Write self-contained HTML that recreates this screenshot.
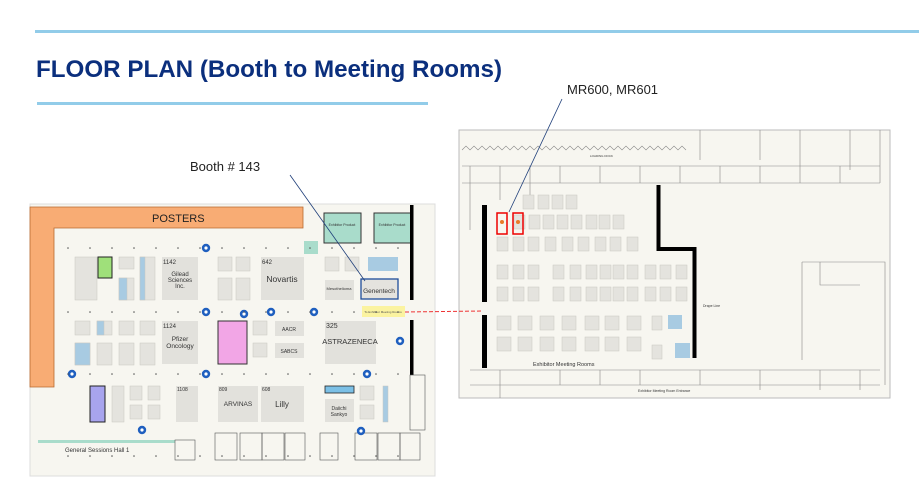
<!DOCTYPE html>
<html><head><meta charset="utf-8"><style>
html,body{margin:0;padding:0;background:#fff;width:919px;height:485px;overflow:hidden}
svg{display:block}
text{font-family:"Liberation Sans",sans-serif}
</style></head><body>
<svg id="s" width="919" height="485" viewBox="0 0 919 485" xmlns="http://www.w3.org/2000/svg">
<rect x="35" y="30" width="884" height="3" fill="#92cce9"/>
<text x="36" y="77" font-size="24" font-weight="bold" fill="#0b2f7d" textLength="466" lengthAdjust="spacingAndGlyphs">FLOOR PLAN (Booth to Meeting Rooms)</text>
<rect x="37" y="102" width="391" height="3" fill="#92cce9"/>

<!-- left plan -->
<rect x="30" y="204" width="405" height="272" fill="#f7f6f0" stroke="#ddd"/>
<path d="M30 207 H303 V228 H54 V387 H30 Z" fill="#f8ac74" stroke="#b86a30" stroke-width="0.8"/>
<text x="152" y="222" font-size="11" fill="#222">POSTERS</text>
<g id="lb" fill="#e4e3de" stroke="#c8c7c0" stroke-width="0.5"></g>
<rect x="98" y="257" width="14" height="21" fill="#9fe07a" stroke="#222" stroke-width="1"/>
<rect x="162" y="257" width="36" height="43" fill="#e2e1dc"/>
<text x="163" y="264" font-size="6" fill="#333">1142</text>
<text x="180" y="276" font-size="6" fill="#333" text-anchor="middle">Gilead</text>
<text x="180" y="282" font-size="6" fill="#333" text-anchor="middle">Sciences</text>
<text x="180" y="288" font-size="6" fill="#333" text-anchor="middle">Inc.</text>
<rect x="261" y="257" width="43" height="43" fill="#e2e1dc"/>
<text x="262" y="264" font-size="6" fill="#333">642</text>
<text x="282" y="282" font-size="8.5" fill="#333" text-anchor="middle">Novartis</text>
<rect x="162" y="321" width="36" height="43" fill="#e2e1dc"/>
<text x="163" y="328" font-size="6" fill="#333">1124</text>
<text x="180" y="341" font-size="6.5" fill="#333" text-anchor="middle">Pfizer</text>
<text x="180" y="348" font-size="6.5" fill="#333" text-anchor="middle">Oncology</text>
<rect x="218" y="321" width="29" height="43" fill="#f2a6e6" stroke="#333" stroke-width="1"/>
<rect x="275" y="321" width="29" height="15" fill="#e2e1dc"/><text x="289" y="331" font-size="5" fill="#333" text-anchor="middle">AACR</text>
<rect x="275" y="343" width="29" height="15" fill="#e2e1dc"/><text x="289" y="353" font-size="5" fill="#333" text-anchor="middle">SABCS</text>
<rect x="325" y="321" width="51" height="43" fill="#e2e1dc"/>
<text x="326" y="328" font-size="7" fill="#333">325</text>
<text x="350" y="344" font-size="7.5" fill="#333" text-anchor="middle">ASTRAZENECA</text>
<rect x="325" y="280" width="29" height="20" fill="#e2e1dc"/>
<text x="339" y="290" font-size="4" fill="#333" text-anchor="middle">Mesothelioma</text>
<rect x="361" y="279" width="37" height="20" fill="#e4e3de" stroke="#1f4e9a" stroke-width="1.3"/>
<text x="379" y="293" font-size="6.5" fill="#333" text-anchor="middle">Genentech</text>
<rect x="324" y="213" width="37" height="30" fill="#a9dccb" stroke="#333" stroke-width="1"/>
<text x="342" y="226" font-size="3.5" fill="#333" text-anchor="middle">Exhibitor Product</text>
<rect x="374" y="213" width="37" height="30" fill="#a9dccb" stroke="#333" stroke-width="1"/>
<text x="392" y="226" font-size="3.5" fill="#333" text-anchor="middle">Exhibitor Product</text>
<rect x="304" y="241" width="14" height="13" fill="#a9dccb"/>
<rect x="368" y="257" width="30" height="14" fill="#a8cbe2"/>
<rect x="410" y="205" width="3.5" height="95" fill="#000"/>
<rect x="410" y="320" width="3.5" height="55" fill="#000"/>
<rect x="362" y="306" width="43" height="11" fill="#fbf3a0"/>
<text x="383" y="313" font-size="3" fill="#555" text-anchor="middle">To Exhibitor Meeting Rooms</text>
<rect x="90" y="386" width="15" height="36" fill="#a8a4ee" stroke="#222" stroke-width="1"/>
<rect x="176" y="386" width="22" height="36" fill="#e2e1dc"/><text x="177" y="391" font-size="5" fill="#333">1108</text>
<rect x="218" y="386" width="40" height="36" fill="#e2e1dc"/><text x="219" y="391" font-size="5" fill="#333">809</text>
<text x="238" y="406" font-size="6.5" fill="#333" text-anchor="middle">ARVINAS</text>
<rect x="261" y="386" width="43" height="36" fill="#e2e1dc"/><text x="262" y="391" font-size="5" fill="#333">608</text>
<text x="282" y="407" font-size="8" fill="#333" text-anchor="middle">Lilly</text>
<rect x="325" y="386" width="29" height="7" fill="#7cc0e6" stroke="#222" stroke-width="0.8"/>
<rect x="325" y="399" width="29" height="23" fill="#e2e1dc"/>
<text x="339" y="410" font-size="5" fill="#333" text-anchor="middle">Daiichi</text>
<text x="339" y="416" font-size="5" fill="#333" text-anchor="middle">Sankyo</text>
<rect x="38" y="440" width="137" height="3" fill="#a9dccb"/>
<text x="65" y="452" font-size="6" fill="#333">General Sessions Hall 1</text>
<g id="lbot" fill="none" stroke="#555" stroke-width="0.6"></g>
<g id="icons"></g>

<!-- right plan -->
<rect x="459" y="130" width="431" height="268" fill="#f7f6f0" stroke="#bbb"/>
<g id="rtop" fill="none" stroke="#888" stroke-width="0.6"></g>
<g id="rb" fill="#e4e3de" stroke="#c8c7c0" stroke-width="0.5"></g>
<rect x="497" y="213" width="10" height="21" fill="none" stroke="#e00" stroke-width="1.5"/>
<rect x="513" y="213" width="10" height="21" fill="none" stroke="#e00" stroke-width="1.5"/>
<circle cx="502" cy="222" r="2" fill="#e87a2a"/><circle cx="518" cy="222" r="2" fill="#e87a2a"/>
<rect x="482" y="205" width="5" height="97" fill="#000"/>
<rect x="482" y="315" width="5" height="53" fill="#000"/>
<path d="M658.5 185 V249 H694.5 V358" fill="none" stroke="#000" stroke-width="4"/>
<rect x="668" y="315" width="14" height="14" fill="#a8cbe2"/>
<rect x="675" y="343" width="15" height="15" fill="#a8cbe2"/>
<text x="533" y="366" font-size="5.5" fill="#333">Exhibitor Meeting Rooms</text>
<text x="638" y="392" font-size="3.5" fill="#333">Exhibitor Meeting Room Entrance</text>
<text x="590" y="157" font-size="3" fill="#333">LOADING DOCK</text>
<text x="703" y="307" font-size="3.5" fill="#333">Drape Line</text>

<!-- connectors -->
<line x1="405" y1="312" x2="483" y2="311" stroke="#e33" stroke-width="1" stroke-dasharray="4,2"/>
<line x1="290" y1="175" x2="365" y2="281" stroke="#1f3f7a" stroke-width="0.8"/>
<line x1="562" y1="99" x2="509" y2="212" stroke="#1f3f7a" stroke-width="0.8"/>
<text x="190" y="171" font-size="13" fill="#222">Booth # 143</text>
<text x="567" y="94" font-size="13" fill="#222">MR600, MR601</text>
</svg>
<script>
var NS="http://www.w3.org/2000/svg";
function r(g,x,y,w,h,f){var e=document.createElementNS(NS,"rect");e.setAttribute("x",x);e.setAttribute("y",y);e.setAttribute("width",w);e.setAttribute("height",h);if(f)e.setAttribute("fill",f);document.getElementById(g).appendChild(e);}
function c(g,x,y,rr,f){var e=document.createElementNS(NS,"circle");e.setAttribute("cx",x);e.setAttribute("cy",y);e.setAttribute("r",rr);e.setAttribute("fill",f);document.getElementById(g).appendChild(e);}
[[75,257,22,43],[119,257,15,12],[119,278,15,22],[140,257,15,43],[218,257,14,14],[236,257,14,14],[218,278,14,22],[236,278,14,22],[325,257,14,14],[345,257,14,14],
 [75,321,15,14],[97,321,15,14],[119,321,15,14],[140,321,15,14],[75,343,15,22],[97,343,15,22],[119,343,15,22],[140,343,15,22],[253,321,14,14],[253,343,14,14],
 [112,386,12,36],[130,386,12,14],[130,405,12,14],[148,386,12,14],[148,405,12,14],[360,386,14,14],[360,405,14,14]].forEach(function(a){r("lb",a[0],a[1],a[2],a[3]);});
r("lb",75,343,15,22,"#a8cbe2");r("lb",119,278,8,22,"#a8cbe2");r("lb",140,257,5,43,"#a8cbe2");r("lb",383,386,5,36,"#a8cbe2");r("lb",97,321,7,14,"#a8cbe2");
[[206,248],[206,312],[206,374],[72,374],[142,430],[314,312],[271,312],[367,374],[361,431],[400,341],[244,314]].forEach(function(p){c("icons",p[0],p[1],4.2,"#1f5fbf");c("icons",p[0],p[1],1.6,"#fff");});
for(var x=68;x<410;x+=22){[248,312,374,456].forEach(function(y){c("icons",x,y,0.8,"#555");});}
var lb=document.getElementById("lbot");
[[175,440,20,20],[215,433,22,27],[240,433,22,27],[262,433,22,27],[285,433,20,27],[320,433,18,27],[355,433,22,27],[378,433,22,27],[400,433,20,27],[410,375,15,55]].forEach(function(a){var e=document.createElementNS(NS,"rect");e.setAttribute("x",a[0]);e.setAttribute("y",a[1]);e.setAttribute("width",a[2]);e.setAttribute("height",a[3]);lb.appendChild(e);});
var rt=document.getElementById("rtop");
function p(d){var e=document.createElementNS(NS,"path");e.setAttribute("d",d);rt.appendChild(e);}
var w="M462 150";for(var x=462;x<680;x+=8){w+=" L"+(x+4)+" 146 L"+(x+8)+" 150";}p(w);
p("M462 166 H880 M462 183 H880 M700 130 V160 M760 130 V160 M800 130 V180 M850 130 V170 M880 130 V183 M470 166 V230 M500 166 V200 M530 166 V200 M560 166 V183 M600 166 V183 M640 166 V183 M680 166 V183 M720 166 V183 M760 166 V183 M800 166 V183 M840 166 V183");
p("M802 262 H885 V385 M802 262 V360 M820 262 V285 H860 M470 370 H880 M470 385 H880 M500 370 V398 M560 370 V385 M600 370 V385 M640 370 V385 M700 370 V385 M760 370 V390 M820 370 V390 M860 370 V390");
var rb=[];
[528,543,557,571].forEach(function(x){rb.push([x-5,195,11,14]);});
[478+20,513,528,543,557,571,585,600,613,627].forEach(function(x,i){if(i>1)rb.push([x-14,215,11,14]);});
[497,513,528,545,562,578,595,610,627].forEach(function(x){rb.push([x,237,11,14]);});
[497,513,528,553,570,586,600,613,627,645,660,676].forEach(function(x){rb.push([x,265,11,14]);rb.push([x,287,11,14]);});
[497,518,540,562,585,605,627].forEach(function(x){rb.push([x,316,14,14]);rb.push([x,337,14,14]);});
rb.push([652,316,10,14]);rb.push([652,345,10,14]);
rb.forEach(function(a){r("rb",a[0],a[1],a[2],a[3]);});
for(var x=465;x<890;x+=22){[226,243,307,328,355].forEach(function(y){if(x>700||y<240)c("icons",x,y,0.7,"#666");});}
</script>
</body></html>
